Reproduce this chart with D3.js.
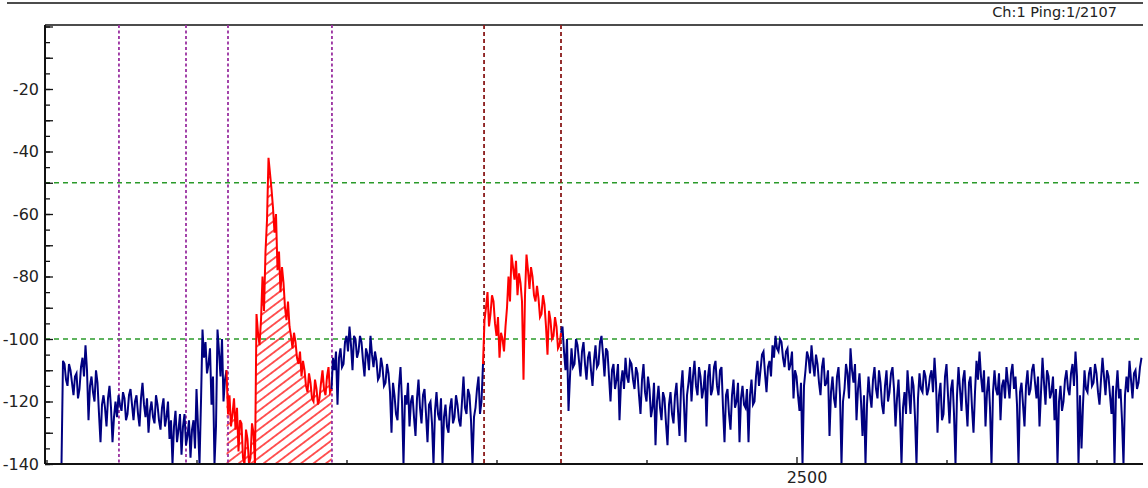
<!DOCTYPE html>
<html>
<head>
<meta charset="utf-8">
<script src="https://cdn.jsdelivr.net/npm/d3@7"></script>
<style>
  body { margin: 0; background: #fff; }
  svg text { font-family: "DejaVu Sans", Verdana, sans-serif; }
</style>
</head>
<body>
<svg id="chart" width="1148" height="488"></svg>
<script>
// Echo amplitude (dB) per sample, starting at sample `sampleStart`
const sampleStart = 2010;
const sampleStep = 1;
const amplitude = [
  -140,-107,-108,-113,-115,-108,-110,-114,-118,-112,-111,-119,-116,-109,-106,-112,-102,-110,-126,-115,
  -112,-117,-120,-110,-114,-124,-133,-121,-118,-122,-128,-119,-115,-122,-133,-125,-120,-125,-118,-121,
  -123,-117,-119,-126,-124,-118,-116,-121,-126,-120,-118,-124,-128,-119,-114,-121,-125,-119,-130,-123,
  -120,-125,-127,-118,-121,-126,-129,-122,-119,-128,-125,-120,-132,-126,-140,-128,-123,-133,-129,-124,
  -137,-128,-124,-134,-131,-126,-138,-129,-126,-135,-116,-128,-140,-120,-97,-106,-101,-111,-108,-103,
  -121,-112,-140,-128,-97,-104,-112,-100,-120,-113,-110,-124,-118,-128,-124,-119,-129,-122,-136,-126,
  -127,-138,-140,-129,-132,-140,-138,-127,-130,-140,-92,-98,-102,-94,-80,-91,-72,-62,-42,-47,
  -52,-58,-66,-60,-78,-72,-85,-77,-82,-90,-94,-88,-96,-99,-103,-98,-101,-106,-108,-104,
  -112,-107,-110,-115,-117,-111,-114,-119,-120,-113,-116,-121,-119,-114,-110,-116,-118,-112,-109,-117,
  -116,-106,-110,-104,-121,-106,-103,-109,-108,-101,-99,-104,-96,-102,-110,-99,-100,-106,-104,-99,
  -101,-107,-112,-103,-105,-110,-99,-105,-109,-104,-107,-113,-112,-106,-109,-115,-114,-108,-111,-117,
  -130,-114,-118,-124,-126,-115,-109,-120,-140,-118,-121,-114,-128,-120,-118,-125,-131,-119,-113,-122,
  -127,-118,-116,-124,-133,-121,-120,-127,-140,-123,-117,-124,-126,-119,-140,-125,-121,-128,-130,-122,
  -119,-127,-125,-118,-121,-126,-128,-120,-112,-122,-124,-116,-118,-126,-140,-125,-122,-116,-112,-124,
  -120,-108,-94,-90,-85,-96,-92,-86,-88,-95,-99,-93,-106,-98,-100,-104,-96,-90,-80,-88,
  -73,-77,-81,-75,-86,-79,-82,-88,-113,-86,-73,-78,-84,-77,-80,-86,-88,-83,-87,-93,
  -92,-86,-89,-96,-105,-91,-94,-100,-99,-93,-96,-103,-102,-98,-96,-104,-110,-100,-123,-112,
  -103,-109,-108,-100,-102,-107,-112,-104,-101,-108,-113,-106,-104,-110,-115,-107,-102,-109,-108,-101,
  -99,-105,-112,-103,-104,-112,-120,-110,-108,-116,-113,-108,-126,-114,-110,-116,-106,-112,-114,-107,
  -108,-113,-116,-109,-111,-118,-124,-113,-108,-117,-120,-112,-116,-125,-122,-114,-134,-120,-115,-122,
  -126,-117,-119,-127,-134,-121,-117,-124,-127,-118,-114,-123,-131,-116,-110,-121,-133,-118,-114,-109,
  -120,-112,-107,-115,-118,-109,-112,-119,-116,-110,-128,-112,-108,-118,-116,-109,-107,-115,-118,-110,
  -109,-122,-133,-118,-116,-124,-129,-118,-113,-122,-120,-114,-133,-119,-115,-121,-122,-116,-133,-118,
  -113,-121,-120,-112,-107,-115,-110,-105,-104,-111,-117,-109,-107,-112,-102,-106,-99,-103,-104,-100,
  -101,-106,-109,-104,-103,-110,-108,-104,-119,-110,-112,-118,-123,-114,-140,-115,-110,-104,-106,-111,
  -102,-108,-112,-105,-108,-114,-118,-109,-106,-115,-114,-110,-131,-117,-112,-119,-122,-112,-109,-118,
  -140,-120,-116,-108,-111,-119,-103,-110,-114,-108,-126,-116,-111,-120,-131,-118,-140,-121,-112,-118,
  -122,-113,-109,-116,-119,-110,-114,-121,-124,-115,-110,-120,-117,-111,-109,-116,-128,-119,-113,-124,
  -140,-122,-117,-124,-110,-117,-124,-112,-115,-125,-140,-119,-111,-116,-117,-110,-112,-118,-116,-112,
  -110,-117,-106,-114,-130,-118,-114,-126,-124,-112,-108,-118,-127,-116,-113,-124,-140,-118,-109,-116,
  -123,-113,-110,-120,-128,-114,-112,-122,-130,-117,-107,-113,-104,-112,-117,-110,-128,-117,-112,-122,
  -140,-117,-110,-116,-118,-111,-126,-115,-113,-119,-109,-114,-119,-111,-108,-116,-112,-121,-140,-117,
  -114,-121,-128,-115,-110,-118,-116,-110,-108,-114,-119,-112,-128,-117,-106,-114,-121,-110,-112,-119,
  -117,-112,-126,-116,-140,-120,-115,-123,-120,-113,-110,-116,-118,-111,-108,-115,-104,-112,-140,-118,
  -135,-121,-110,-116,-117,-111,-109,-115,-114,-108,-111,-117,-121,-113,-106,-112,-118,-110,-112,-118,
  -124,-115,-140,-117,-110,-119,-116,-126,-140,-118,-112,-117,-107,-113,-119,-111,-110,-116,-114,-109,
  -106
];

// Detection gates (sample ranges) drawn in red; the first one is hatched
const gates = [[2121, 2190.3], [2291.7, 2343]];
const hatchedGate = 0;
// Gate boundary markers
const gateMarkers = [2048.3, 2093, 2121, 2190.3];
const windowMarkers = [2291.7, 2343];
// Threshold levels (dB)
const thresholds = [-50, -100];
// Axes
const yDomain = [-140, 0];
const xDomain = [1999, 2731];
const xTickValues = [2000, 2100, 2200, 2300, 2400, 2500, 2600, 2700];
const xLabelValues = [2500];
const yMajorStep = 10, yMinorStep = 5, yLabelStep = 20;
const headerText = "Ch:1 Ping:1/2107";

const svg = d3.select("#chart");
const plot = { left: 45, right: 1143, top: 25, bottom: 464 };

const x = d3.scaleLinear().domain(xDomain).range([plot.left, plot.right]);
const y = d3.scaleLinear().domain(yDomain).range([plot.bottom, 26.5]);

const points = amplitude.map((v, i) => ({ s: sampleStart + i * sampleStep, v }));
const inGate = s => gates.findIndex(g => s >= g[0] && s <= g[1]);

// Split the trace into runs of the same gate state, sharing boundary points
const runs = [];
points.forEach(p => {
  const g = inGate(p.s);
  const last = runs[runs.length - 1];
  if (!last || last.gate !== g) {
    const run = { gate: g, pts: [] };
    if (last) run.pts.push(last.pts[last.pts.length - 1]);
    runs.push(run);
  }
  runs[runs.length - 1].pts.push(p);
});

const defs = svg.append("defs");
defs.append("clipPath").attr("id", "plotClip")
  .append("rect")
  .attr("x", plot.left).attr("y", plot.top)
  .attr("width", plot.right - plot.left).attr("height", plot.bottom - plot.top);

const pat = defs.append("pattern")
  .attr("id", "hatch")
  .attr("patternUnits", "userSpaceOnUse")
  .attr("width", 12).attr("height", 7.5)
  .attr("patternTransform", "rotate(-37)");
pat.append("line")
  .attr("x1", 0).attr("y1", 3.75).attr("x2", 12).attr("y2", 3.75)
  .attr("stroke", "#ff0000").attr("stroke-width", 1.3);

// Header band
svg.append("line")
  .attr("x1", 7).attr("x2", plot.right).attr("y1", 3).attr("y2", 3)
  .attr("stroke", "#111").attr("stroke-width", 1.6);
svg.append("text")
  .attr("x", 1117).attr("y", 17)
  .attr("text-anchor", "end")
  .attr("font-size", 14.5)
  .attr("fill", "#222")
  .text(headerText);
svg.append("line")
  .attr("x1", plot.left).attr("x2", plot.right).attr("y1", plot.top).attr("y2", plot.top)
  .attr("stroke", "#111").attr("stroke-width", 1.6);

const g = svg.append("g").attr("clip-path", "url(#plotClip)");

// Hatched area under the first gate
const gatePts = runs.filter(r => r.gate === hatchedGate).flatMap(r => r.pts);
g.append("path")
  .datum(gatePts)
  .attr("fill", "url(#hatch)")
  .attr("d", d3.area().x(d => x(d.s)).y0(y(yDomain[0])).y1(d => y(d.v)));

// Threshold lines
g.selectAll(".thr").data(thresholds).join("line")
  .attr("x1", plot.left).attr("x2", plot.right)
  .attr("y1", d => y(d)).attr("y2", d => y(d))
  .attr("stroke", "#2a9a2a").attr("stroke-width", 1.3)
  .attr("stroke-dasharray", "5,4");

// Gate markers
g.selectAll(".gm").data(gateMarkers).join("line")
  .attr("x1", d => x(d)).attr("x2", d => x(d))
  .attr("y1", plot.top).attr("y2", plot.bottom)
  .attr("stroke", "#9a30a0").attr("stroke-width", 1.8)
  .attr("stroke-dasharray", "3,2.5");
g.selectAll(".wm").data(windowMarkers).join("line")
  .attr("x1", d => x(d)).attr("x2", d => x(d))
  .attr("y1", plot.top).attr("y2", plot.bottom)
  .attr("stroke", "#8a1a1a").attr("stroke-width", 1.8)
  .attr("stroke-dasharray", "4,3");

// Trace
const line = d3.line().x(d => x(d.s)).y(d => y(d.v));
g.selectAll(".trace").data(runs).join("path")
  .attr("fill", "none")
  .attr("stroke", d => d.gate >= 0 ? "#ff0000" : "#000080")
  .attr("stroke-width", 2)
  .attr("stroke-linejoin", "miter")
  .attr("d", d => line(d.pts));

// Y axis: minor ticks, major ticks, labels
const yMinor = d3.range(yDomain[0], yDomain[1] + 0.1, yMinorStep);
const yMajor = d3.range(yDomain[0], yDomain[1] + 0.1, yMajorStep);
svg.append("g").attr("transform", `translate(${plot.left},0)`)
  .call(d3.axisLeft(y).tickValues(yMinor).tickSize(-5).tickSizeOuter(0).tickFormat(""))
  .call(a => a.select(".domain").remove())
  .call(a => a.selectAll("line").attr("stroke", "#111").attr("stroke-width", 1.3));
svg.append("g").attr("transform", `translate(${plot.left},0)`)
  .call(d3.axisLeft(y).tickValues(yMajor).tickSize(-8).tickSizeOuter(0).tickPadding(6)
    .tickFormat(d => (d % yLabelStep === 0 && d !== 0) ? d : ""))
  .call(a => a.select(".domain").remove())
  .call(a => a.selectAll("line").attr("stroke", "#111").attr("stroke-width", 1.3))
  .call(a => a.selectAll("text").attr("font-size", 16).attr("fill", "#222")
    .attr("font-family", "DejaVu Sans, Verdana, sans-serif"));

// X axis
svg.append("g").attr("transform", `translate(0,${plot.bottom})`)
  .call(d3.axisBottom(x).tickValues(xTickValues).tickSizeOuter(0).tickPadding(8)
    .tickSize(-4).tickFormat(d => xLabelValues.includes(d) ? d : ""))
  .call(a => a.select(".domain").remove())
  .call(a => a.selectAll(".tick line")
    .attr("y2", d => xLabelValues.includes(d) ? -7 : -4)
    .attr("stroke", "#111").attr("stroke-width", 1.3))
  .call(a => a.selectAll("text").attr("font-size", 16).attr("fill", "#222").attr("dx", 10)
    .attr("font-family", "DejaVu Sans, Verdana, sans-serif"));

// Axis lines
svg.append("line")
  .attr("x1", plot.left).attr("x2", plot.left).attr("y1", plot.top).attr("y2", plot.bottom)
  .attr("stroke", "#111").attr("stroke-width", 2);
svg.append("line")
  .attr("x1", plot.left).attr("x2", plot.right).attr("y1", plot.bottom).attr("y2", plot.bottom)
  .attr("stroke", "#111").attr("stroke-width", 2);
</script>
</body>
</html>
